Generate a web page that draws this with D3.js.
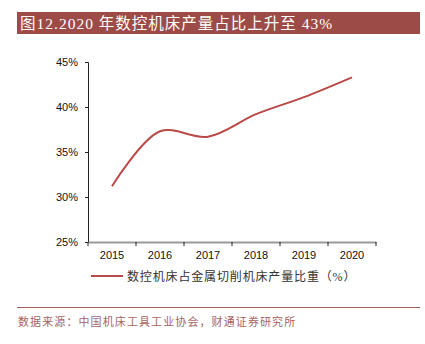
<!DOCTYPE html>
<html>
<head>
<meta charset="utf-8">
<script src="https://cdn.jsdelivr.net/npm/d3@7"></script>
<style>
  body { margin: 0; background: #fff; }
  svg { display: block; }
</style>
</head>
<body>
<svg id="chart" width="425" height="344"></svg>
<script>
'use strict';

// share of CNC machines in metal-cutting machine output
var years = ['2015', '2016', '2017', '2018', '2019', '2020'];
var share = [31.2, 37.3, 36.7, 39.2, 41.1, 43.3];
var yTicks = [25, 30, 35, 40, 45];

var titleText = '图12.2020 年数控机床产量占比上升至 43%';
var legendText = '数控机床占金属切削机床产量比重（%）';
var sourceText = '数据来源：中国机床工具工业协会，财通证券研究所';

var RED = '#b94a48';
var BRAND = '#9c4b47';
var CJK = '"Liberation Serif", "Noto Sans CJK SC", serif';

var svg = d3.select('#chart');

// title banner
svg.append('rect')
  .attr('x', 17).attr('y', 12)
  .attr('width', 403).attr('height', 22)
  .attr('fill', BRAND);
svg.append('text')
  .attr('x', 20).attr('y', 28.5)
  .attr('font-family', CJK)
  .attr('font-size', '15.5px')
  .attr('letter-spacing', '1px')
  .attr('fill', '#fff')
  .text(titleText);

var x = d3.scaleBand().domain(years).range([88, 376]);
var y = d3.scaleLinear().domain([25, 45]).range([242, 62]);

// y axis
var yAxis = svg.append('g')
  .attr('transform', 'translate(88,0)')
  .call(d3.axisLeft(y).tickValues(yTicks).tickSize(3).tickFormat(d => d + '%'));
yAxis.select('.domain').attr('stroke', '#222').attr('stroke-width', 1);
yAxis.selectAll('.tick line').attr('stroke', '#222');
yAxis.selectAll('text')
  .attr('font-family', '"Liberation Sans", Arial, sans-serif')
  .attr('font-size', '11px')
  .attr('fill', '#111')
  .attr('x', -10);

// x axis
var xAxis = svg.append('g')
  .attr('transform', 'translate(0,242)')
  .call(d3.axisBottom(x).tickSize(0).tickPadding(9));
xAxis.select('.domain').attr('stroke', '#9a9a9a').attr('stroke-width', 2);
xAxis.selectAll('text')
  .attr('font-family', '"Liberation Sans", Arial, sans-serif')
  .attr('font-size', '11px')
  .attr('fill', '#111');

// tick marks sit on the band edges
var edges = years.map(d => x(d)).concat([x.range()[1]]);
svg.append('g').selectAll('line')
  .data(edges)
  .enter().append('line')
  .attr('x1', d => d).attr('x2', d => d)
  .attr('y1', 242).attr('y2', 246)
  .attr('stroke', '#222');

// smoothed series line
var line = d3.line()
  .x((d, i) => x(years[i]) + x.bandwidth() / 2)
  .y(d => y(d))
  .curve(d3.curveCatmullRom.alpha(0.5));

svg.append('path')
  .datum(share)
  .attr('d', line)
  .attr('fill', 'none')
  .attr('stroke', RED)
  .attr('stroke-width', 2);

// legend
svg.append('line')
  .attr('x1', 91).attr('x2', 123)
  .attr('y1', 276).attr('y2', 276)
  .attr('stroke', RED).attr('stroke-width', 2);
svg.append('text')
  .attr('x', 127).attr('y', 280.5)
  .attr('font-family', CJK)
  .attr('font-size', '12px')
  .attr('letter-spacing', '0.85px')
  .attr('fill', '#333')
  .text(legendText);

// footer rule and source
svg.append('line')
  .attr('x1', 17).attr('x2', 420)
  .attr('y1', 307.5).attr('y2', 307.5)
  .attr('stroke', '#a4615c').attr('stroke-width', 1);
svg.append('text')
  .attr('x', 18).attr('y', 326)
  .attr('font-family', CJK)
  .attr('font-size', '11px')
  .attr('letter-spacing', '1.1px')
  .attr('fill', '#a8635e')
  .text(sourceText);
</script>
</body>
</html>
